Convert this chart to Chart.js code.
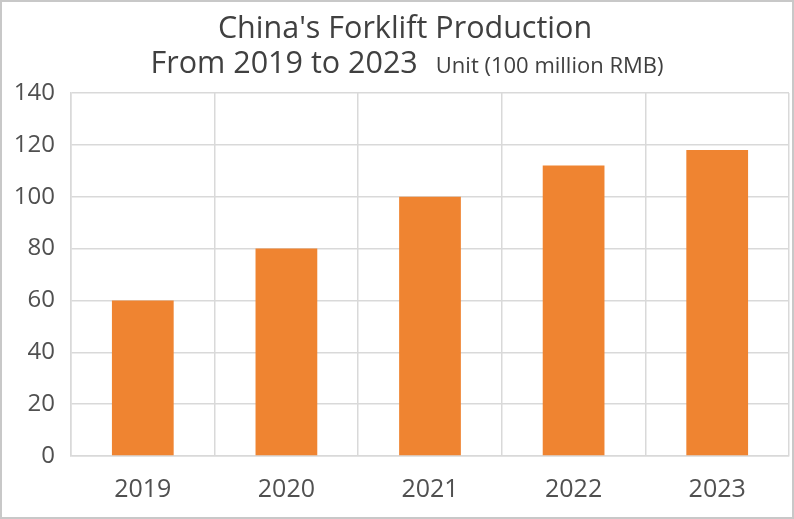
<!DOCTYPE html>
<html>
<head>
<meta charset="utf-8">
<script src="https://cdn.jsdelivr.net/npm/chart.js@4"></script>
<style>
  html, body { margin: 0; padding: 0; background: #fff; }
  #wrap { width: 790px; height: 515px; border: 2px solid #c8c8c8; }
</style>
</head>
<body>
<div id="wrap"><canvas id="chart" width="790" height="515"></canvas></div>
<script>
// data
const years = ["2019", "2020", "2021", "2022", "2023"];
const production = [60, 80, 100, 112, 118];
const titleLine1 = "China's Forklift Production";
const titleLine2 = "From 2019 to 2023";
const unitText = "Unit (100 million RMB)";

const fontFamily = "'Open Sans', 'Noto Sans', sans-serif";
const textColor = "#404040";
const tickColor = "#505050";
const gridColor = "#d9d9d9";

// draws the two title lines, second one with the smaller unit text
const titlePlugin = {
    id: 'twoLineTitle',
    afterDraw: (chart) => {
        const ctx = chart.ctx;
        const cx = chart.width / 2;
        ctx.save();
        ctx.fillStyle = textColor;
        ctx.textBaseline = 'alphabetic';

        ctx.font = `30.5px ${fontFamily}`;
        ctx.textAlign = 'center';
        ctx.fillText(titleLine1, cx + 8, 36);

        const bigFont = `30.5px ${fontFamily}`;
        const smallFont = `22px ${fontFamily}`;
        ctx.font = bigFont;
        const w1 = ctx.measureText(titleLine2).width;
        ctx.font = smallFont;
        const gap = 18;
        const w2 = ctx.measureText(unitText).width;
        const start = cx + 10 - (w1 + gap + w2) / 2;
        ctx.textAlign = 'left';
        ctx.font = bigFont;
        ctx.fillText(titleLine2, start, 71);
        ctx.font = smallFont;
        ctx.fillText(unitText, start + w1 + gap, 71);
        ctx.restore();
    }
};

new Chart(document.getElementById("chart").getContext("2d"), {
    type: "bar",
    data: {
        labels: years,
        datasets: [{
            data: production,
            backgroundColor: "#ef8431",
            barPercentage: 0.43,
            categoryPercentage: 1
        }]
    },
    options: {
        responsive: false,
        animation: false,
        layout: { padding: { top: 91, right: 3, left: 0, bottom: 0 } },
        plugins: {
            legend: { display: false },
            tooltip: { enabled: false }
        },
        scales: {
            x: {
                grid: { color: gridColor, lineWidth: 1.5, drawTicks: false },
                border: { color: gridColor, width: 1.5 },
                ticks: {
                    color: tickColor,
                    padding: 19,
                    font: { family: fontFamily, size: 25 }
                },
                afterFit: (scale) => { scale.height = 61; }
            },
            y: {
                min: 0,
                max: 140,
                grid: { color: gridColor, lineWidth: 1.5, drawTicks: false },
                border: { color: gridColor, width: 1.5 },
                ticks: {
                    stepSize: 20,
                    color: tickColor,
                    padding: 16,
                    font: { family: fontFamily, size: 24 }
                },
                afterFit: (scale) => { scale.width = 69; }
            }
        }
    },
    plugins: [titlePlugin]
});
</script>
</body>
</html>
